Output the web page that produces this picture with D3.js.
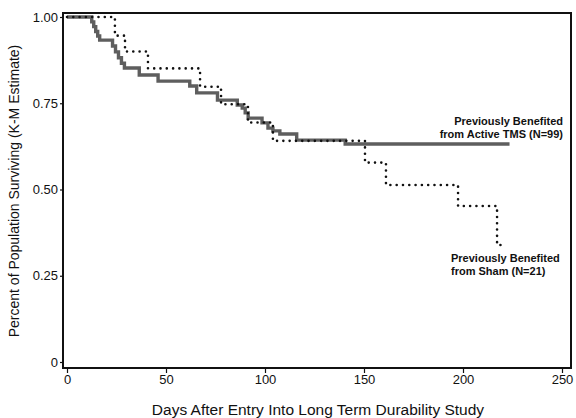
<!DOCTYPE html>
<html>
<head>
<meta charset="utf-8">
<script src="https://cdn.jsdelivr.net/npm/d3@7"></script>
<style>
html,body{margin:0;padding:0;background:#fff;}
svg{display:block;font-family:"Liberation Sans",Arial,sans-serif;}
</style>
</head>
<body>
<svg id="chart" width="576" height="418"></svg>
<script>
// Data (days, K-M survival estimate)
const activeDays = [0, 12.5, 13.5, 14.5, 15.5, 16.5, 23, 24.5, 26, 27.5, 29, 36.5, 46, 62, 65.5, 76, 86, 88.5, 90, 91.5, 98.5, 101.5, 104, 107.5, 116, 140.5, 223.5];
const activeSurv = [1.0, 0.986, 0.972, 0.958, 0.945, 0.933, 0.916, 0.899, 0.882, 0.866, 0.852, 0.832, 0.814, 0.800, 0.780, 0.759, 0.745, 0.736, 0.722, 0.707, 0.693, 0.678, 0.670, 0.661, 0.643, 0.632, 0.632];
const shamDays = [0, 24.2, 29.3, 40.9, 67.2, 77.8, 91.4, 104, 150.5, 161.1, 197.5, 217.2, 220.8];
const shamSurv = [1.0, 0.946, 0.900, 0.851, 0.798, 0.747, 0.694, 0.641, 0.578, 0.513, 0.452, 0.339, 0.339];
const xTicks = [0, 50, 100, 150, 200, 250];
const yTicks = [0, 0.25, 0.5, 0.75, 1.0];
const yTickLabels = ["0", "0.25", "0.50", "0.75", "1.00"];
const xTitle = "Days After Entry Into Long Term Durability Study";
const yTitle = "Percent of Population Surviving (K-M Estimate)";
const activeLabel = ["Previously Benefited", "from Active TMS (N=99)"];
const shamLabel = ["Previously Benefited", "from Sham (N=21)"];

const svg = d3.select("#chart");
const x = d3.scaleLinear().domain([0, 250]).range([67, 562]);
const y = d3.scaleLinear().domain([0, 1]).range([362, 17]);
const frame = {left: 63, right: 571, top: 13, bottom: 368};

// frame
svg.append("rect")
  .attr("x", frame.left).attr("y", frame.top)
  .attr("width", frame.right - frame.left).attr("height", frame.bottom - frame.top)
  .attr("fill", "none").attr("stroke", "#111").attr("stroke-width", 2);

// y axis
const yAxis = svg.append("g").attr("transform", `translate(${frame.left},0)`)
  .call(d3.axisLeft(y).tickValues(yTicks).tickSize(3).tickPadding(2)
    .tickFormat((d, i) => yTickLabels[i]));
yAxis.select(".domain").remove();
yAxis.selectAll("line").attr("stroke", "#111").attr("stroke-width", 1.2);
yAxis.selectAll("text").attr("font-size", 13).attr("fill", "#111")
  .attr("font-family", "Liberation Sans, Arial, sans-serif");

// x axis
const xAxis = svg.append("g").attr("transform", `translate(0,${frame.bottom})`)
  .call(d3.axisBottom(x).tickValues(xTicks).tickSize(5).tickPadding(2));
xAxis.select(".domain").remove();
xAxis.selectAll("line").attr("stroke", "#111").attr("stroke-width", 1.2);
xAxis.selectAll("text").attr("font-size", 13).attr("fill", "#111")
  .attr("font-family", "Liberation Sans, Arial, sans-serif");

// titles
svg.append("text").attr("x", 318).attr("y", 415).attr("text-anchor", "middle")
  .attr("font-size", 15.5).attr("fill", "#111").text(xTitle);
svg.append("text").attr("transform", "translate(19,191) rotate(-90)")
  .attr("text-anchor", "middle").attr("font-size", 14).attr("fill", "#111").text(yTitle);

// curves
const line = d3.line().x(d => x(d[0])).y(d => y(d[1])).curve(d3.curveStepAfter);
const active = activeDays.map((d, i) => [d, activeSurv[i]]);
const sham = shamDays.map((d, i) => [d, shamSurv[i]]);

svg.append("path").datum(active).attr("d", line)
  .attr("fill", "none").attr("stroke", "#5e5e5e").attr("stroke-width", 3.4);
svg.append("path").datum(sham).attr("d", line)
  .attr("fill", "none").attr("stroke", "#111").attr("stroke-width", 2.6)
  .attr("stroke-linecap", "round").attr("stroke-dasharray", "0,6.3");

// labels
const al = svg.append("text").attr("font-size", 11).attr("font-weight", "bold")
  .attr("fill", "#111").attr("text-anchor", "end");
activeLabel.forEach((t, i) => al.append("tspan").attr("x", 563).attr("y", 125 + i * 13).text(t));
const sl = svg.append("text").attr("font-size", 11).attr("font-weight", "bold")
  .attr("fill", "#111").attr("text-anchor", "start");
shamLabel.forEach((t, i) => sl.append("tspan").attr("x", 451).attr("y", 262 + i * 13).text(t));
</script>
</body>
</html>
